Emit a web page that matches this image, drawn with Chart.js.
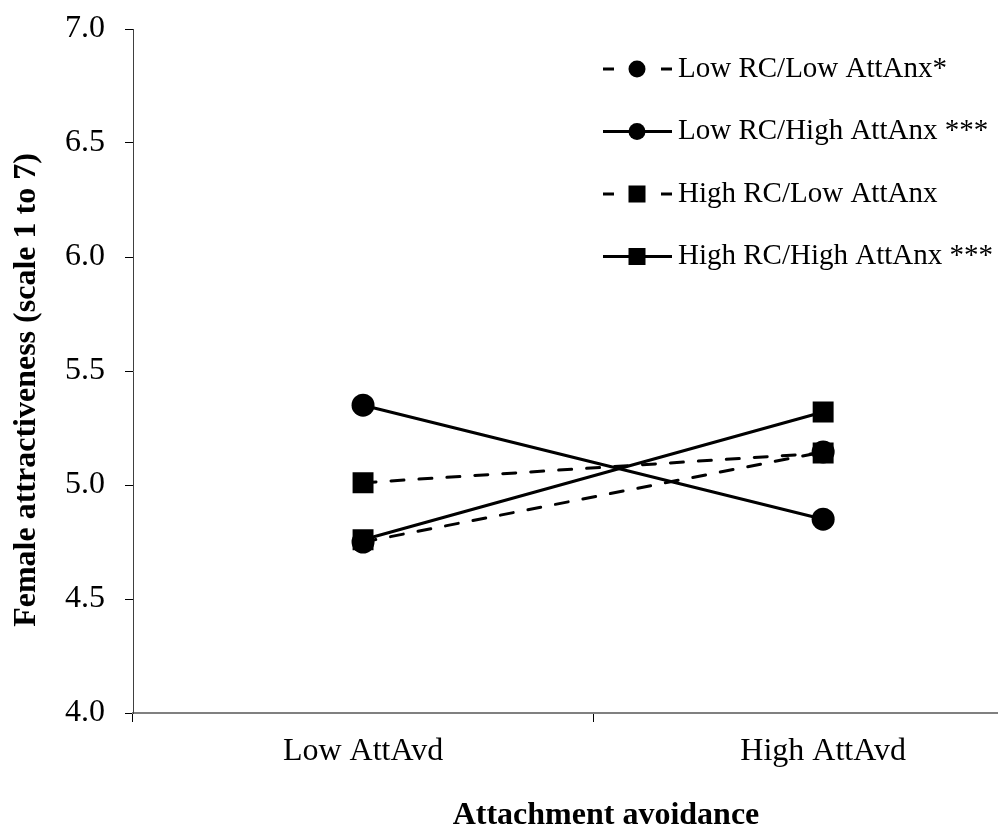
<!DOCTYPE html>
<html>
<head>
<meta charset="utf-8">
<title>Female attractiveness by attachment avoidance</title>
<script src="https://cdn.jsdelivr.net/npm/chart.js@4.4.1/dist/chart.umd.min.js"></script>
<style>
  html, body { margin: 0; padding: 0; background: #fff; overflow: hidden; }
  #wrap { width: 1068px; height: 832px; }
</style>
</head>
<body>
<div id="wrap"><canvas id="chart" width="1068" height="832"></canvas></div>
<script>
// categories on the x axis
const categories = ['Low AttAvd', 'High AttAvd'];

// mean ratings per group
const lowRcLowAnx = [4.75, 5.145];
const lowRcHighAnx = [5.35, 4.85];
const highRcLowAnx = [5.01, 5.14];
const highRcHighAnx = [4.76, 5.32];

const seriesNames = [
    'Low RC/Low AttAnx*',
    'Low RC/High AttAnx ***',
    'High RC/Low AttAnx',
    'High RC/High AttAnx ***'
];

const xTitle = 'Attachment avoidance';
const yTitle = 'Female attractiveness (scale 1 to 7)';

// y axis range
const yMin = 4.0;
const yMax = 7.0;
const yStep = 0.5;

const serif = "'Liberation Serif', 'Times New Roman', serif";
const dash = [13, 15];

// legend drawn by hand: short line sample with marker, then the name
const sideLegend = {
    id: 'sideLegend',
    afterDraw(chart) {
        const ctx = chart.ctx;
        const x0 = 603, x1 = 672, xm = 637, xt = 678;
        chart.data.datasets.forEach((ds, i) => {
            const y = 69 + i * 62.5;
            ctx.save();
            ctx.strokeStyle = '#000';
            ctx.lineWidth = 3;
            ctx.beginPath();
            if (ds.borderDash.length) {
                ctx.moveTo(x0, y); ctx.lineTo(x0 + 11, y);
                ctx.moveTo(x1 - 11, y); ctx.lineTo(x1, y);
            } else {
                ctx.moveTo(x0, y); ctx.lineTo(x1, y);
            }
            ctx.stroke();
            ctx.fillStyle = '#000';
            if (ds.pointStyle === 'circle') {
                ctx.beginPath();
                ctx.arc(xm, y, 8.5, 0, Math.PI * 2);
                ctx.fill();
            } else {
                ctx.fillRect(xm - 8.5, y - 8.5, 17, 17);
            }
            ctx.font = '29px ' + serif;
            ctx.textBaseline = 'middle';
            ctx.textAlign = 'left';
            ctx.fillText(ds.label, xt, y);
            ctx.restore();
        });
    }
};

// axis titles, placed by hand
const axisTitles = {
    id: 'axisTitles',
    afterDraw(chart) {
        const ctx = chart.ctx;
        ctx.save();
        ctx.fillStyle = '#000';
        ctx.font = 'bold 32px ' + serif;
        ctx.textAlign = 'center';
        ctx.textBaseline = 'alphabetic';
        ctx.fillText(xTitle, 606, 824);
        ctx.translate(35, 390);
        ctx.rotate(-Math.PI / 2);
        ctx.fillText(yTitle, 0, 0);
        ctx.restore();
    }
};

function series(label, values, style, dashed, order) {
    const r = style === 'circle' ? 11.5 : 14.8;
    return {
        label: label,
        data: values,
        borderColor: '#000',
        backgroundColor: '#000',
        borderWidth: 3,
        borderDash: dashed ? dash : [],
        borderCapStyle: 'round',
        pointStyle: style,
        pointRadius: r,
        pointHoverRadius: r,
        pointBorderWidth: 0,
        pointBackgroundColor: '#000',
        tension: 0,
        order: order
    };
}

new Chart(document.getElementById('chart'), {
    type: 'line',
    data: {
        labels: categories,
        datasets: [
            series(seriesNames[0], lowRcLowAnx, 'circle', true, 3),
            series(seriesNames[1], lowRcHighAnx, 'circle', false, 2),
            series(seriesNames[2], highRcLowAnx, 'rect', true, 1),
            series(seriesNames[3], highRcHighAnx, 'rect', false, 0)
        ]
    },
    options: {
        responsive: false,
        animation: false,
        devicePixelRatio: 1,
        layout: { padding: { top: 29, right: 2, left: 0, bottom: 0 } },
        plugins: {
            legend: { display: false },
            tooltip: { enabled: false }
        },
        scales: {
            x: {
                type: 'category',
                offset: true,
                grid: {
                    offset: true,
                    drawOnChartArea: false,
                    tickLength: 9,
                    tickColor: '#000',
                    tickWidth: 1
                },
                border: { color: '#808080', width: 2 },
                ticks: {
                    color: '#000',
                    font: { family: serif, size: 32 },
                    padding: 10
                },
                afterFit(scale) { scale.height = 119; }
            },
            y: {
                min: yMin,
                max: yMax,
                grid: {
                    drawOnChartArea: false,
                    tickLength: 8,
                    tickColor: '#000',
                    tickWidth: 1
                },
                border: { color: '#404040', width: 1 },
                ticks: {
                    stepSize: yStep,
                    color: '#000',
                    font: { family: serif, size: 32, lineHeight: 0.5 },
                    padding: 20,
                    callback: v => Number(v).toFixed(1)
                },
                afterFit(scale) { scale.width = 133; }
            }
        }
    },
    plugins: [sideLegend, axisTitles]
});
</script>
</body>
</html>
